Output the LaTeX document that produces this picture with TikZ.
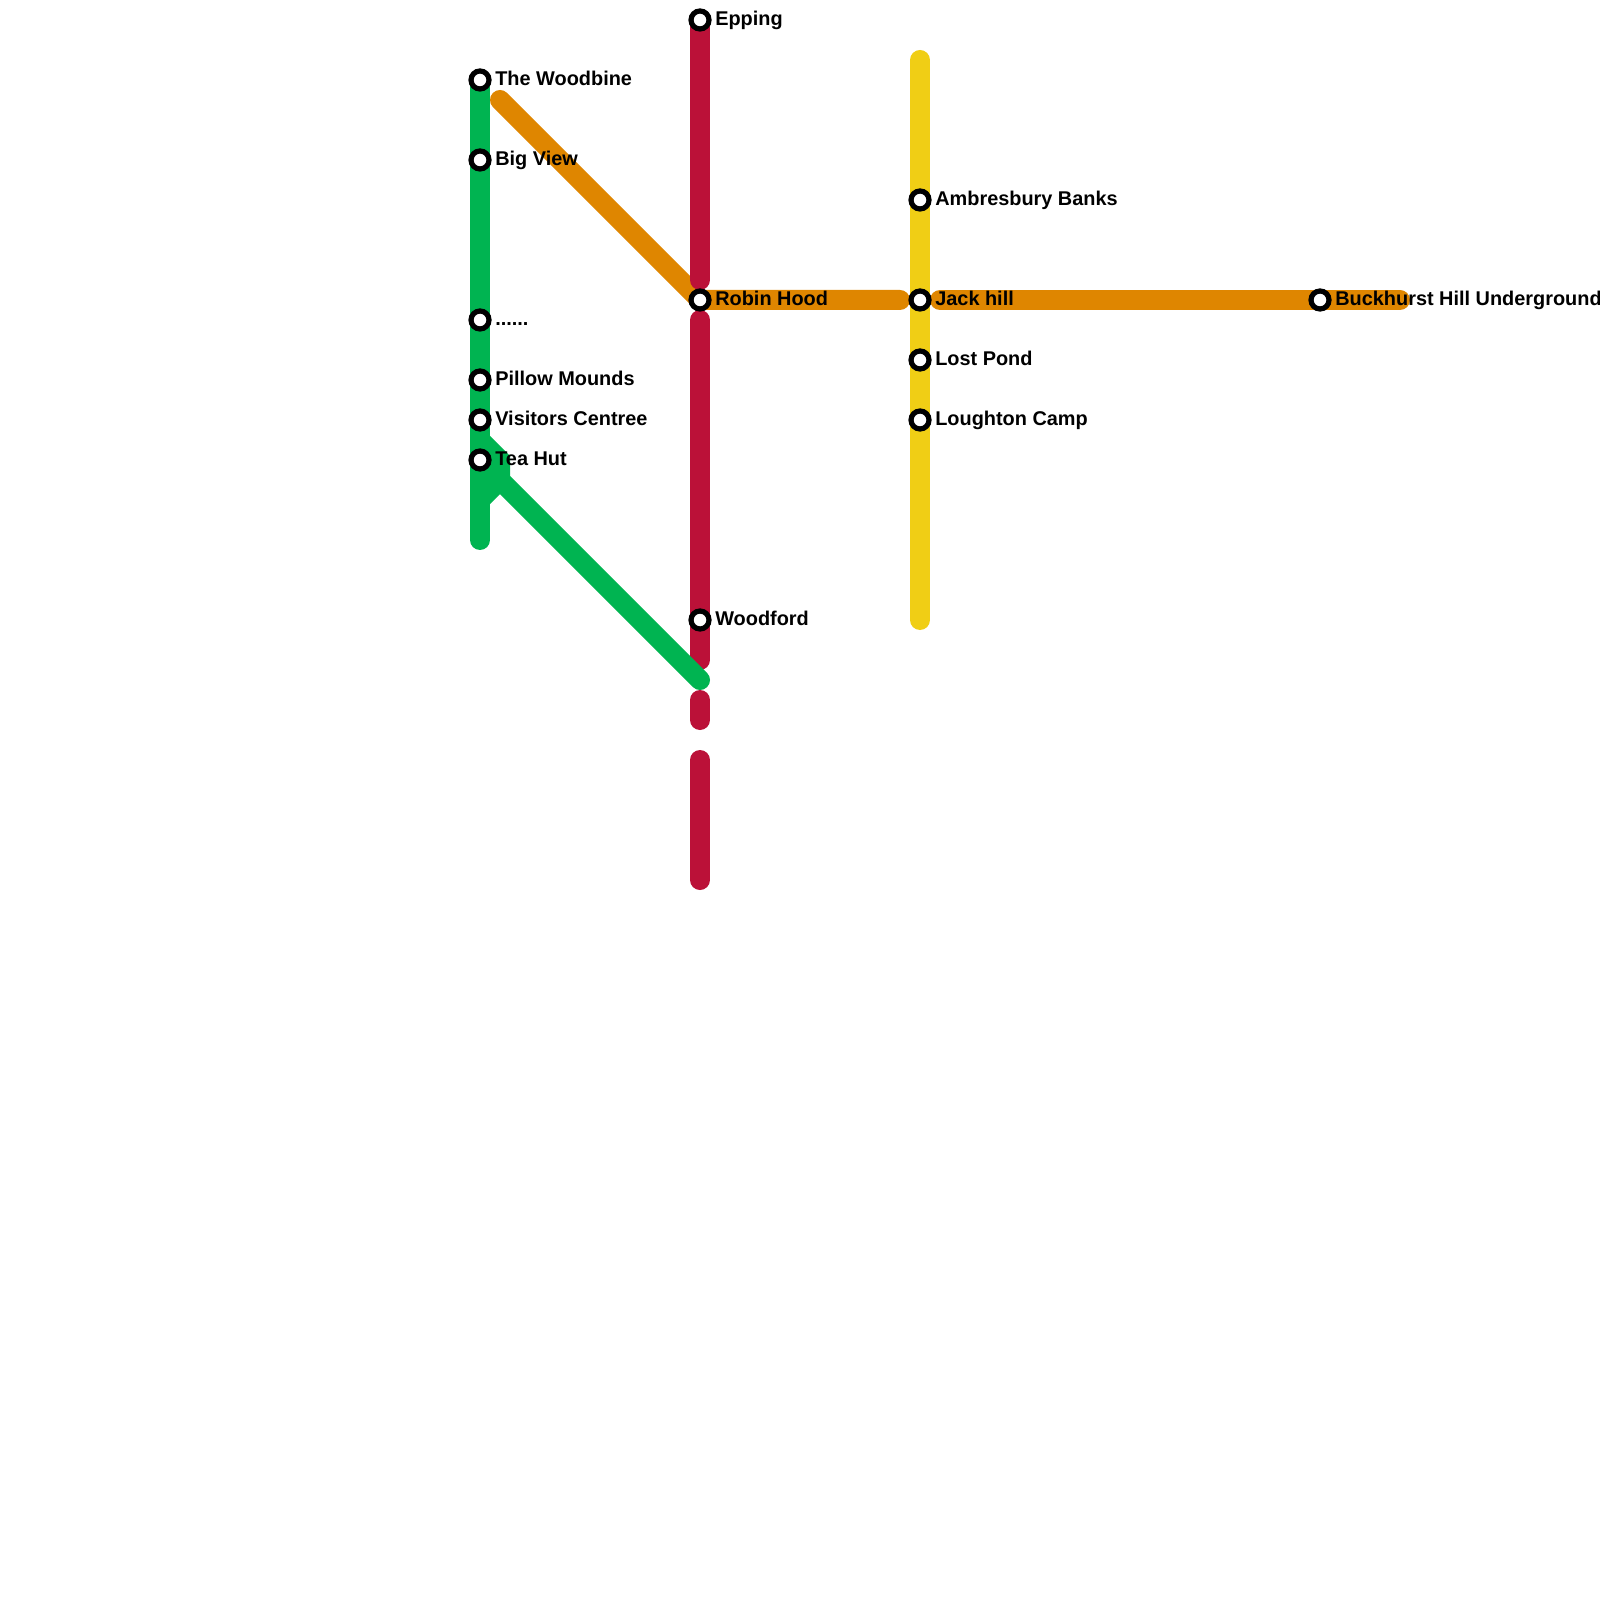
\documentclass[tikz,border=0pt]{standalone}
\usepackage{fontspec}
\setmainfont{Liberation Sans}
\usetikzlibrary{positioning}
\definecolor{greenline}{HTML}{00B451}
\definecolor{redline}{HTML}{BB1138}
\definecolor{orangeline}{HTML}{DF8600}
\definecolor{yellowline}{HTML}{F0CE15}
\tikzset{
	line/.style={line width=0.2cm,line cap=round,line join=miter},
	stop/.style={circle,draw=black,fill=white,line width=0.052cm,minimum size=0.18cm,inner sep=0pt},
	stoplabel/.style={font=\bfseries\fontsize{5.66pt}{7pt}\selectfont,inner sep=0pt,text height=1.47mm,text depth=0.4mm,right=0.03cm of #1}
}
\begin{document}
\begin{tikzpicture}

		\useasboundingbox (0,0) rectangle (16,-16);

		\coordinate (G1) at (4.8,-0.8);
		\coordinate (G2) at (4.8,-5.4);
		\coordinate (G3) at (4.8,-4.4);
		\coordinate (G4) at (5,-4.6);
		\coordinate (G5) at (5,-4.8);
		\coordinate (G6) at (7,-6.8);
		\coordinate (G7) at (4.8,-5);

		\coordinate (O1) at (5,-1);
		\coordinate (O2) at (7,-3);
		\coordinate (O3) at (9,-3);
		\coordinate (O4) at (9.4,-3);
		\coordinate (O5) at (14,-3);

		\coordinate (R1) at (7,-0.2);
		\coordinate (R2) at (7,-2.8);
		\coordinate (R3) at (7,-3.2);
		\coordinate (R4) at (7,-6.6);
		\coordinate (R5) at (7,-7);
		\coordinate (R6) at (7,-7.2);
		\coordinate (R7) at (7,-7.6);
		\coordinate (R8) at (7,-8.8);

		\coordinate (Y1) at (9.2,-0.6);
		\coordinate (Y2) at (9.2,-6.2);

		\draw [line,orangeline] (O1) -- (O2) -- (O3);
		\draw [line,orangeline] (O4) -- (O5);

		\draw [line,redline] (R1) -- (R2);
		\draw [line,redline] (R3) -- (R4);
		\draw [line,redline] (R5) -- (R6);
		\draw [line,redline] (R7) -- (R8);

		\draw [line,yellowline] (Y1) -- (Y2);

		\draw [line,greenline] (G1) -- (G2);
		\draw [line,greenline] (G3) -- (G4) -- (G5) -- (G6);
		\draw [line,greenline] (G5) -- (G7);

		\node (woodbine) at (4.8,-0.8) [stop] {};
		\node (bigview) at (4.8,-1.6) [stop] {};
		\node (dots) at (4.8,-3.2) [stop] {};
		\node (pillow) at (4.8,-3.8) [stop] {};
		\node (visitors) at (4.8,-4.2) [stop] {};
		\node (teahut) at (4.8,-4.6) [stop] {};

		\node (epping) at (7,-0.2) [stop] {};
		\node (robin) at (7,-3) [stop] {};
		\node (woodford) at (7,-6.2) [stop] {};

		\node (ambresbury) at (9.2,-2) [stop] {};
		\node (jack) at (9.2,-3) [stop] {};
		\node (lost) at (9.2,-3.6) [stop] {};
		\node (loughton) at (9.2,-4.2) [stop] {};

		\node (buckhurst) at (13.2,-3) [stop] {};

		\node (woodbinetext) [stoplabel=woodbine] {The Woodbine};
		\node (bigviewtext) [stoplabel=bigview] {Big View};
		\node (dotstext) [stoplabel=dots] {......};
		\node (pillowtext) [stoplabel=pillow] {Pillow Mounds};
		\node (visitorstext) [stoplabel=visitors] {Visitors Centree};
		\node (teahuttext) [stoplabel=teahut] {Tea Hut};
		\node (eppingtext) [stoplabel=epping] {Epping};
		\node (robintext) [stoplabel=robin] {Robin Hood};
		\node (woodfordtext) [stoplabel=woodford] {Woodford};
		\node (ambresburytext) [stoplabel=ambresbury] {Ambresbury Banks};
		\node (jacktext) [stoplabel=jack] {Jack hill};
		\node (losttext) [stoplabel=lost] {Lost Pond};
		\node (loughtontext) [stoplabel=loughton] {Loughton Camp};
		\node (buckhursttext) [stoplabel=buckhurst] {Buckhurst Hill Underground};

		\end{tikzpicture}
\end{document}
